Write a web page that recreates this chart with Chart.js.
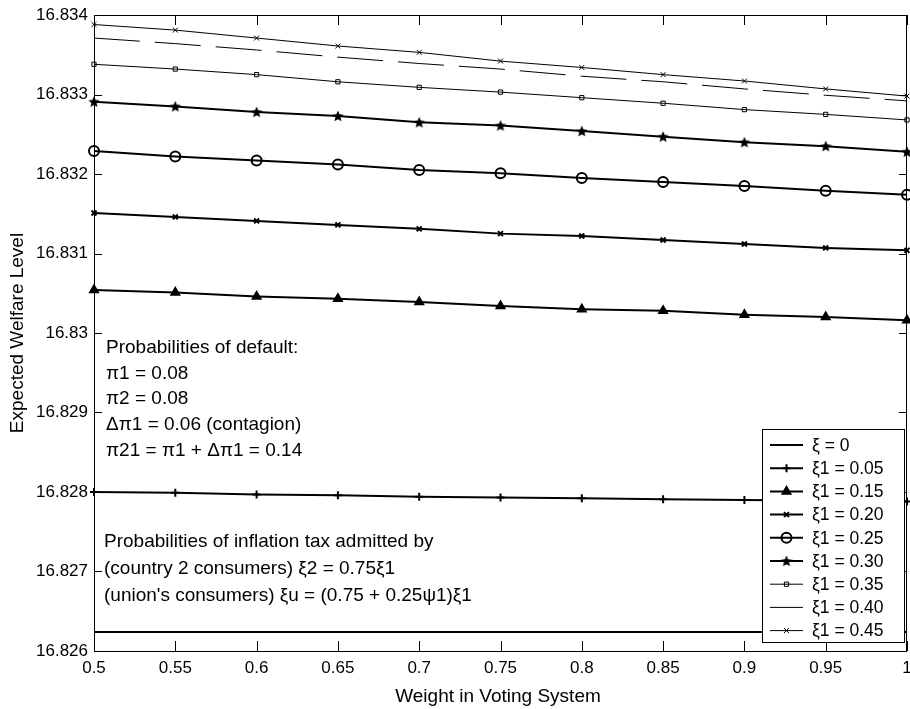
<!DOCTYPE html>
<html>
<head>
<meta charset="utf-8">
<script src="https://cdn.jsdelivr.net/npm/chart.js@4/dist/chart.umd.min.js"></script>
<style>
  html, body { margin: 0; padding: 0; background: #fff; }
  canvas { display: block; }
</style>
</head>
<body>
<canvas id="welfareChart" width="910" height="709"></canvas>
<script>
// --- data ---
const weights = [0.5, 0.55, 0.6, 0.65, 0.7, 0.75, 0.8, 0.85, 0.9, 0.95, 1];
const yTicks = [16.826, 16.827, 16.828, 16.829, 16.83, 16.831, 16.832, 16.833, 16.834];

const xi0  = [16.82624, 16.82624, 16.82624, 16.82624, 16.82624, 16.82624, 16.82624, 16.82624, 16.82624, 16.82624, 16.82624];
const xi05 = [16.82800, 16.82799, 16.82797, 16.82796, 16.82794, 16.82793, 16.82792, 16.82791, 16.82790, 16.82789, 16.82788];
const xi15 = [16.83054, 16.83051, 16.83046, 16.83043, 16.83039, 16.83034, 16.83030, 16.83028, 16.83023, 16.83020, 16.83016];
const xi20 = [16.83151, 16.83146, 16.83141, 16.83136, 16.83131, 16.83125, 16.83122, 16.83117, 16.83112, 16.83107, 16.83104];
const xi25 = [16.83229, 16.83222, 16.83217, 16.83212, 16.83205, 16.83201, 16.83195, 16.83190, 16.83185, 16.83179, 16.83174];
const xi30 = [16.83291, 16.83285, 16.83278, 16.83273, 16.83265, 16.83261, 16.83254, 16.83247, 16.83240, 16.83235, 16.83228];
const xi35 = [16.83338, 16.83332, 16.83325, 16.83316, 16.83309, 16.83303, 16.83296, 16.83289, 16.83281, 16.83275, 16.83268];
const xi40 = [16.83371, 16.83364, 16.83356, 16.83347, 16.83339, 16.83332, 16.83323, 16.83316, 16.83307, 16.83299, 16.83292];
const xi45 = [16.83388, 16.83381, 16.83371, 16.83361, 16.83353, 16.83342, 16.83334, 16.83325, 16.83317, 16.83307, 16.83298];

const labels = ['ξ = 0', 'ξ1 = 0.05', 'ξ1 = 0.15', 'ξ1 = 0.20', 'ξ1 = 0.25', 'ξ1 = 0.30', 'ξ1 = 0.35', 'ξ1 = 0.40', 'ξ1 = 0.45'];

const noteDefault = [
    'Probabilities of default:',
    'π1 = 0.08',
    'π2 = 0.08',
    'Δπ1 = 0.06 (contagion)',
    'π21 = π1 + Δπ1 = 0.14'
];
const noteInflation = [
    'Probabilities of inflation tax admitted by',
    '(country 2 consumers) ξ2 = 0.75ξ1',
    "(union's consumers) ξu = (0.75 + 0.25ψ1)ξ1"
];

const FONT = 'Arial, "Liberation Sans", sans-serif';

// filled pentagram marker (matlab 'p')
function makeStar(size) {
    const c = document.createElement('canvas');
    c.width = size; c.height = size;
    const g = c.getContext('2d');
    const cx = size / 2, cy = size / 2 + 0.5, ro = size / 2, ri = ro * 0.45;
    g.beginPath();
    for (let i = 0; i < 10; i++) {
        const r = i % 2 === 0 ? ro : ri;
        const a = -Math.PI / 2 + i * Math.PI / 5;
        const px = cx + r * Math.cos(a), py = cy + r * Math.sin(a);
        if (i === 0) g.moveTo(px, py); else g.lineTo(px, py);
    }
    g.closePath();
    g.fillStyle = '#000';
    g.fill();
    return c;
}
const starImg = makeStar(12);

function series(values, width, style, radius, fill, dash) {
    return {
        data: weights.map((w, i) => ({ x: w, y: values[i] })),
        borderColor: '#000',
        borderWidth: width,
        borderDash: dash || [],
        pointStyle: style,
        pointRadius: radius,
        pointBorderWidth: width,
        pointBorderColor: '#000',
        pointBackgroundColor: fill,
        tension: 0,
        clip: false
    };
}

const datasets = [
    series(xi0, 2, false, 0, '#000'),
    series(xi05, 2, 'cross', 4, '#000'),
    series(xi15, 2, 'triangle', 4.5, '#000'),
    series(xi20, 2, 'crossRot', 3.5, '#000'),
    series(xi25, 2, 'circle', 5, 'rgba(0,0,0,0)'),
    series(xi30, 2, starImg, 6, '#000'),
    series(xi35, 1, 'rect', 3, 'rgba(0,0,0,0)'),
    series(xi40, 1, false, 0, '#000', [46, 15]),
    series(xi45, 1, 'crossRot', 3.5, '#000')
];
datasets.forEach((d, i) => d.label = labels[i]);

// box, inward ticks, axis titles, notes and legend
const matlabLook = {
    id: 'matlabLook',
    afterDraw(chart) {
        const { ctx, chartArea: a, scales } = chart;
        ctx.save();
        ctx.strokeStyle = '#000';
        ctx.lineWidth = 1;
        ctx.strokeRect(a.left + 0.5, a.top + 0.5, a.right - a.left - 1, a.bottom - a.top);

        ctx.beginPath();
        weights.forEach(w => {
            const x = Math.round(scales.x.getPixelForValue(w)) + 0.5;
            ctx.moveTo(x, a.bottom); ctx.lineTo(x, a.bottom - 10);
            ctx.moveTo(x, a.top); ctx.lineTo(x, a.top + 10);
        });
        yTicks.forEach(v => {
            const y = Math.round(scales.y.getPixelForValue(v)) + 0.5;
            ctx.moveTo(a.left, y); ctx.lineTo(a.left + 8, y);
            ctx.moveTo(a.right, y); ctx.lineTo(a.right - 8, y);
        });
        ctx.stroke();

        // axis titles
        ctx.fillStyle = '#000';
        ctx.font = '19px ' + FONT;
        ctx.textAlign = 'center';
        ctx.textBaseline = 'middle';
        ctx.fillText('Weight in Voting System', 498, 697);
        ctx.save();
        ctx.translate(18, 333);
        ctx.rotate(-Math.PI / 2);
        ctx.fillText('Expected Welfare Level', 0, 0);
        ctx.restore();

        // notes
        ctx.textAlign = 'left';
        noteDefault.forEach((t, i) => ctx.fillText(t, 106, 348 + i * 25.6));
        noteInflation.forEach((t, i) => ctx.fillText(t, 104, 542 + i * 26.7));

        // legend
        const lx = 762, ly = 429, lw = 142, lh = 213;
        ctx.fillStyle = '#fff';
        ctx.fillRect(lx, ly, lw, lh);
        ctx.strokeRect(lx + 0.5, ly + 0.5, lw, lh);
        ctx.font = '17.5px ' + FONT;
        chart.data.datasets.forEach((d, i) => {
            const y = ly + 16 + i * 23.2;
            ctx.strokeStyle = '#000';
            ctx.lineWidth = d.borderWidth;
            ctx.setLineDash(d.borderDash);
            ctx.beginPath();
            ctx.moveTo(770, y); ctx.lineTo(803, y);
            ctx.stroke();
            ctx.setLineDash([]);
            if (d.pointStyle && d.pointRadius > 0) {
                ctx.fillStyle = d.pointBackgroundColor;
                Chart.helpers.drawPoint(ctx, {
                    pointStyle: d.pointStyle,
                    radius: d.pointRadius,
                    borderWidth: d.pointBorderWidth,
                    rotation: 0
                }, 786.5, y);
            }
            ctx.fillStyle = '#000';
            ctx.fillText(d.label, 812, y + 1);
        });
        ctx.restore();
    }
};

new Chart(document.getElementById('welfareChart').getContext('2d'), {
    type: 'line',
    data: { datasets },
    options: {
        responsive: false,
        animation: false,
        devicePixelRatio: 1,
        layout: { autoPadding: false, padding: { top: 15, right: 3, left: 0, bottom: 0 } },
        plugins: {
            legend: { display: false },
            tooltip: { enabled: false }
        },
        scales: {
            x: {
                type: 'linear',
                min: 0.5,
                max: 1,
                afterFit: s => { s.height = 58; s.paddingLeft = 0; s.paddingRight = 0; },
                afterBuildTicks: s => { s.ticks = weights.map(v => ({ value: v })); },
                grid: { display: false, drawTicks: false },
                border: { display: false },
                ticks: {
                    padding: 7,
                    color: '#000',
                    font: { family: FONT, size: 17 },
                    maxRotation: 0,
                    autoSkip: false,
                    callback: v => String(Number(v.toFixed(2)))
                }
            },
            y: {
                min: 16.826,
                max: 16.834,
                afterFit: s => { s.width = 94; s.paddingTop = 0; s.paddingBottom = 0; },
                afterBuildTicks: s => { s.ticks = yTicks.map(v => ({ value: v })); },
                grid: { display: false, drawTicks: false },
                border: { display: false },
                ticks: {
                    padding: 6,
                    color: '#000',
                    font: { family: FONT, size: 17 },
                    autoSkip: false,
                    callback: v => String(Number(v.toFixed(3)))
                }
            }
        }
    },
    plugins: [matlabLook]
});
</script>
</body>
</html>
